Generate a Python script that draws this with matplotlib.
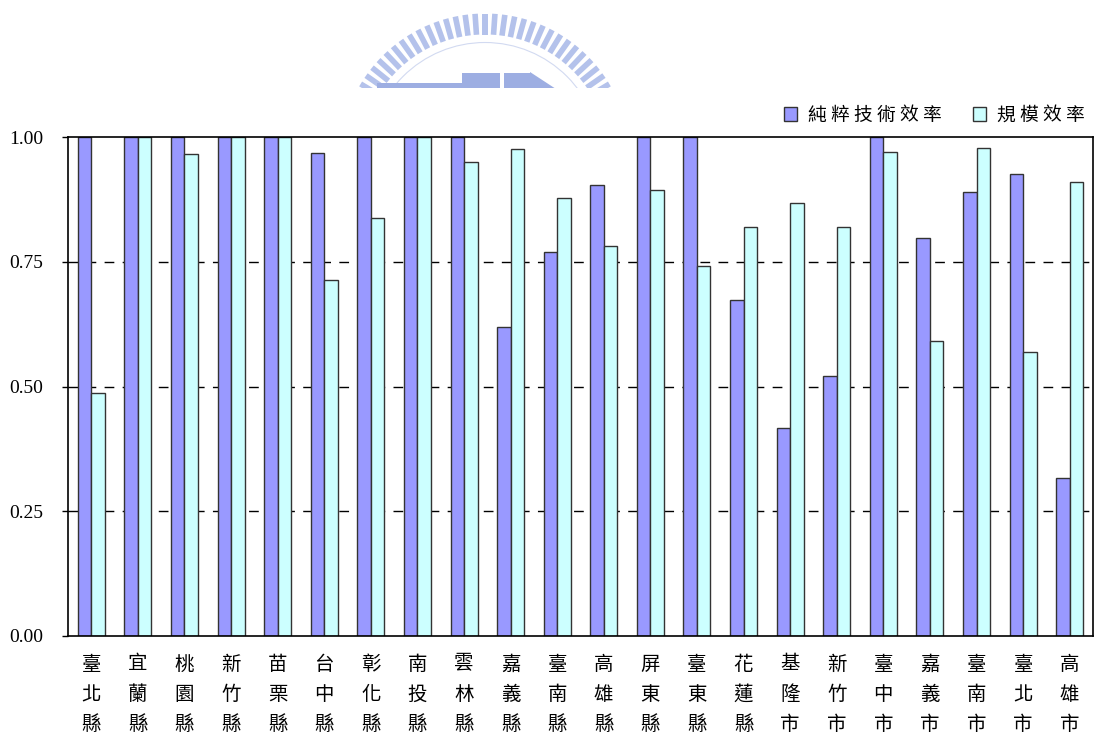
import numpy as np
import matplotlib
matplotlib.use("Agg")
import matplotlib.pyplot as plt
from matplotlib.patches import Rectangle, Polygon, Circle

# ---- data -------------------------------------------------------------
regions = ["臺北縣", "宜蘭縣", "桃園縣", "新竹縣", "苗栗縣", "台中縣", "彰化縣",
           "南投縣", "雲林縣", "嘉義縣", "臺南縣", "高雄縣", "屏東縣", "臺東縣",
           "花蓮縣", "基隆市", "新竹市", "臺中市", "嘉義市", "臺南市", "臺北市",
           "高雄市"]
pure_tech_eff = [1.000, 1.000, 1.000, 1.000, 1.000, 0.968, 1.000,
                 1.000, 1.000, 0.619, 0.769, 0.904, 1.000, 1.000,
                 0.673, 0.417, 0.522, 1.000, 0.798, 0.890, 0.926,
                 0.316]
scale_eff = [0.487, 1.000, 0.965, 1.000, 1.000, 0.713, 0.837,
             1.000, 0.949, 0.975, 0.878, 0.781, 0.893, 0.742,
             0.820, 0.868, 0.820, 0.970, 0.592, 0.977, 0.570,
             0.909]
series_names = ["純粹技術效率", "規模效率"]
y_ticks = [0.00, 0.25, 0.50, 0.75, 1.00]

# ---- figure -----------------------------------------------------------
W, H = 1096, 738
fig = plt.figure(figsize=(W / 100, H / 100), dpi=100)
fig.patch.set_facecolor("white")

def fx(x):
    return x / W

def fy(y):
    return 1 - y / H

CJK = ["Noto Sans CJK TC", "DejaVu Sans"]
PURPLE = "#9999FF"
CYAN = "#CCFFFF"
EDGE = "#333333"

# ---- emblem at the top (clipped at its lower edge) ---------------------
emb = fig.add_axes([0, 0, 1, 1], zorder=0)
emb.set_xlim(0, W)
emb.set_ylim(H, 0)
emb.axis("off")
clip = Rectangle((0, 0), W, 88, transform=emb.transData)
cx, cy = 485, 158.5
teeth_col = "#B4C2EB"
for ang in np.linspace(-63, 63, 33):
    a = np.deg2rad(ang)
    r0, r1, hw = 124, 145, 2.8
    ux, uy = np.sin(a), -np.cos(a)
    px, py = np.cos(a), np.sin(a)
    pts = [(cx + ux * r0 - px * hw, cy + uy * r0 - py * hw),
           (cx + ux * r1 - px * hw, cy + uy * r1 - py * hw),
           (cx + ux * r1 + px * hw, cy + uy * r1 + py * hw),
           (cx + ux * r0 + px * hw, cy + uy * r0 + py * hw)]
    p = Polygon(pts, closed=True, facecolor=teeth_col, edgecolor="none")
    emb.add_patch(p)
    p.set_clip_path(clip)
ring = Circle((cx, cy), 116, facecolor="none", edgecolor="#D2DAF1", lw=0.8)
emb.add_patch(ring)
ring.set_clip_path(clip)
blk_col = "#9DAEE2"
for x0, y0, w, h in [(377, 83, 85, 6), (462, 73, 38, 16), (504, 73, 26, 16)]:
    r = Rectangle((x0, y0), w, h, facecolor=blk_col, edgecolor="none")
    emb.add_patch(r)
    r.set_clip_path(clip)
tri = Polygon([(530, 89), (530, 72), (556, 89)], closed=True,
              facecolor=blk_col, edgecolor="none")
emb.add_patch(tri)
tri.set_clip_path(clip)

# ---- main axes --------------------------------------------------------
left, right, top, bottom = 68, 1093, 137, 636
ax = fig.add_axes([fx(left), fy(bottom), fx(right - left), (bottom - top) / H],
                  zorder=1)
ax.set_facecolor("none")

n = len(regions)
x = np.arange(n)
bw = 0.29
ax.bar(x - bw / 2, pure_tech_eff, bw, color=PURPLE, edgecolor=EDGE,
       linewidth=1.0, zorder=3)
ax.bar(x + bw / 2, scale_eff, bw, color=CYAN, edgecolor=EDGE,
       linewidth=1.0, zorder=3)

ax.set_xlim(-0.5, n - 0.5)
ax.set_ylim(0, 1.0)
ax.set_yticks(y_ticks)
ax.set_yticklabels([f"{v:.2f}" for v in y_ticks],
                   fontfamily="Liberation Serif", fontsize=14)
ax.tick_params(axis="y", direction="out", length=4, width=1, pad=14)
ax.set_xticks([])
for yv in y_ticks[1:-1]:
    ax.axhline(yv, color="black", lw=1.0, ls=(0, (7, 6)), zorder=1)
for s in ax.spines.values():
    s.set_color("black")
    s.set_linewidth(1.2)
    s.set_zorder(4)

# vertical category labels, one character per row
for i, name in enumerate(regions):
    for k, ch in enumerate(name):
        ax.annotate(ch, xy=(i, 0), xycoords="data",
                    xytext=(0, -28 - 30.5 * k), textcoords="offset pixels",
                    ha="center", va="center", fontsize=14, family=CJK,
                    annotation_clip=False)

# ---- legend ------------------------------------------------------------
def legend_item(x0, color, label):
    fig.add_artist(Rectangle((fx(x0), fy(121)), 13 / W, 14 / H,
                             transform=fig.transFigure, facecolor=color,
                             edgecolor=EDGE, lw=1.0))
    for k, ch in enumerate(label):
        fig.text(fx(x0 + 33 + 23 * k), fy(115), ch, ha="center", va="center",
                 fontsize=13.5, family=CJK)

legend_item(784, PURPLE, series_names[0])
legend_item(973, CYAN, series_names[1])

fig.savefig("out.png", dpi=100, facecolor="white")
